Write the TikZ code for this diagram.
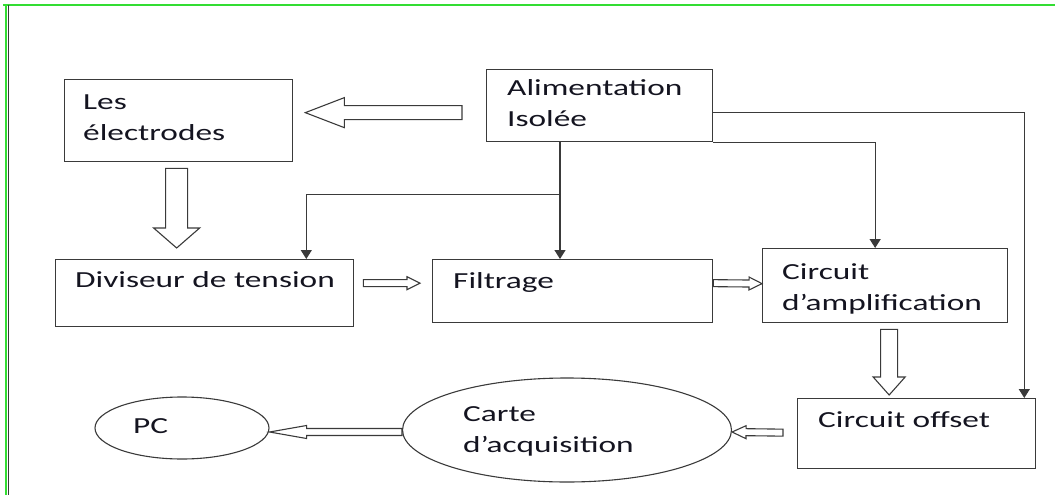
\documentclass[tikz,border=0pt]{standalone}
\usepackage{fontspec}
\setmainfont{Carlito}[FakeStretch=1.45]
\usepackage{tikz}
\usetikzlibrary{arrows.meta, shapes.geometric, calc}
\definecolor{edge}{HTML}{3A3A3A}
\definecolor{ink}{HTML}{141420}
\definecolor{frame}{HTML}{33DD33}
\newcommand{\boxfont}{\fontsize{23}{31}\selectfont}
\tikzset{box/.style = {rectangle, draw=edge, line width=1.3pt, anchor=north west, inner sep=0pt}}
\tikzset{oval/.style = {ellipse, draw=edge, line width=1.1pt, inner sep=0pt}}
\tikzset{txt/.style = {anchor=base west, inner sep=0pt, align=left, text=ink, font=\boxfont}}
\tikzset{feed/.style = {draw=edge, line width=1.3pt, -{Triangle[width=11pt,length=9pt]}}}
\tikzset{pipe/.style = {draw=edge, line width=1.1pt, line join=miter}}

% start, end, half shaft, half head, head length
\newcommand{\blockarrow}[5]{%
    \coordinate (ba-s) at (#1);
    \coordinate (ba-e) at (#2);
    \coordinate (ba-h) at ($(ba-e)!#5!(ba-s)$);
    \draw [pipe] ($(ba-s)!#3!90:(ba-e)$) -- ($(ba-h)!#3!-90:(ba-s)$)
        -- ($(ba-h)!#4!-90:(ba-s)$) -- (ba-e) -- ($(ba-h)!#4!90:(ba-s)$)
        -- ($(ba-h)!#3!90:(ba-s)$) -- ($(ba-s)!#3!-90:(ba-e)$) -- cycle;
}

\begin{document}
\begin{tikzpicture}[x=1pt, y=-1pt]
        \useasboundingbox (0,0) rectangle (1055,495);

        % cadre
        \draw [frame, line width=1.5pt] (3,5) -- (1055,5);
        \draw [frame, line width=1.5pt] (6,5) -- (6,495);
        \draw [edge, line width=1.5pt] (8.5,5) -- (8.5,495);

        % blocs
        \node [box, minimum width=228pt, minimum height=82pt] (elec) at ( 64, 79) {};
        \node [box, minimum width=226pt, minimum height=72pt] (alim) at (486, 69) {};
        \node [box, minimum width=298pt, minimum height=67pt] (div)  at ( 55,259) {};
        \node [box, minimum width=280pt, minimum height=63pt] (filt) at (432,259) {};
        \node [box, minimum width=245pt, minimum height=74pt] (ampl) at (762,248) {};
        \node [box, minimum width=238pt, minimum height=70pt] (offs) at (797,398) {};
        \node [oval, minimum width=329pt, minimum height=104pt] (carte) at (567,430) {};
        \node [oval, minimum width=174pt, minimum height=62pt] (pc) at (182,428) {};

        % textes (base = derniere ligne)
        \node [txt] (elec-t)  at ( 83,140) {Les\\électrodes};
        \node [txt] (alim-t)  at (507,126) {Alimentation\\Isolée};
        \node [txt] (div-t)   at ( 75,287) {Diviseur de tension};
        \node [txt] (filt-t)  at (453,288) {Filtrage};
        \node [txt] (ampl-t)  at (782,310) {Circuit\\d’amplification};
        \node [txt] (offs-t)  at (818,427) {Circuit offset};
        \node [txt] (carte-t) at (463,452) {Carte\\d’acquisition};
        \node [txt] (pc-t)    at (133,433) {PC};

        % alimentation
        \coordinate (split) at ($(alim.south west)+(74,52)$);
        \draw [feed] (split |- alim.south) -- (split |- filt.north);
        \draw [feed] (split) -| ($(div.north east)+(-48,0)$);
        \draw [feed] ($(alim.east)+(0,7)$) -| ($(offs.north east)+(-12,0)$);
        \draw [feed] (alim.south east) -| ($(ampl.north)+(-10,0)$);

        % signal
        \blockarrow{$(alim.west)+(-24,7)$}{$(elec.east)+(12,-8)$}{7pt}{15pt}{39pt}
        \blockarrow{$(elec.south)+(-2,6)$}{$(elec.south |- div.north)+(-2,-11)$}{11pt}{23pt}{20pt}
        \blockarrow{$(div.east)+(9,-10)$}{$(filt.west)+(-12,-8)$}{3.5pt}{6.5pt}{13pt}
        \blockarrow{$(filt.east)+(0,-8)$}{$(ampl.west)+(0,-2)$}{3.5pt}{6.5pt}{13pt}
        \blockarrow{$(ampl.south)+(4,6)$}{$(ampl.south |- offs.north)+(4,-3)$}{8.5pt}{16pt}{18pt}
        \blockarrow{$(offs.west)+(-14,-1)$}{$(carte.east)+(0,2)$}{3.5pt}{6.5pt}{14pt}
        \blockarrow{$(carte.west)+(0,2)$}{$(pc.east)+(0,4)$}{3.5pt}{6.5pt}{37pt}
\end{tikzpicture}
\end{document}
